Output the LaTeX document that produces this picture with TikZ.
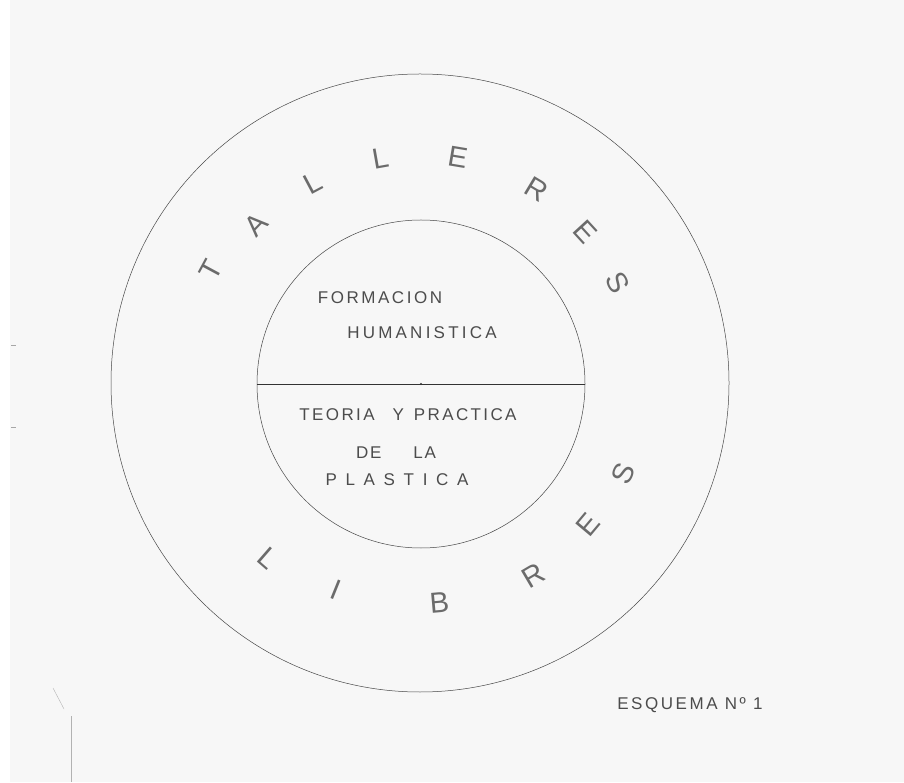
\documentclass[tikz,border=0pt]{standalone}
\usepackage{fontspec}
\setmainfont{Liberation Sans}
\begin{document}
\begin{tikzpicture}[x=1pt,y=1pt,
  pencil/.style={draw=black!72, line width=0.5pt},
  ring/.style={font=\fontsize{29}{29}\selectfont, text=black!58, inner sep=0pt},
  inlabel/.style={font=\fontsize{17}{17}\selectfont, text=black!70, inner sep=0pt}]
\useasboundingbox (0,0) rectangle (904,782);
\fill[white] (0,0) rectangle (904,782);
\fill[black!3] (10,0) rectangle (904,782);
% scan artefacts
\draw[black!30, line width=0.4pt] (53,94) -- (64,73);
\draw[black!30, line width=0.5pt] (71,66) -- (71,0);
\draw[black!35, line width=0.4pt] (11,437) -- (16,437);
\draw[black!35, line width=0.4pt] (11,355) -- (16,355);
% circles
\coordinate (c) at (420,399);
\node[circle, pencil, minimum size=618pt, inner sep=0pt] (outer) at (c) {};
\node[circle, pencil, minimum size=328pt, inner sep=0pt] (inner) at (421,398) {};
\draw[draw=black!80, line width=0.8pt] (inner.west) -- (inner.east);
\fill[black!80] (inner.center) circle (1.2pt);
% ring letters
\foreach \ch/\a/\r [count=\i] in {T/151.7/238, A/136/228, L/118/227, L/100/228, E/80.5/229, R/59/226, E/42.5/224, S/27/222}
  \node[ring, rotate=\a-90] (top\i) at ([shift={(\a:\r)}]c) {\ch};
\foreach \ch/\a/\r [count=\i] in {L/-131/232, I/-112/223, B/-85/221, R/-59.5/223, E/-40/220, S/-24/223}
  \node[ring, rotate=\a+90] (bot\i) at ([shift={(\a:\r)}]c) {\ch};
% inner texts
\node[inlabel] (form) at (380,484) {\addfontfeature{LetterSpace=15}FORMACION};
\node[inlabel] (hum) at (422,449) {\addfontfeature{LetterSpace=19}HUMANISTICA};
\node[inlabel] (teo) at (408,367) {\addfontfeature{LetterSpace=14}TEORIA\hspace{18pt}Y\hspace{10pt}PRACTICA};
\node[inlabel] (dela) at (396,329) {\addfontfeature{LetterSpace=10}DE\hspace{32pt}LA};
\node[inlabel] (plas) at (397,302) {\addfontfeature{LetterSpace=51}PLASTICA};
\node[inlabel] (esq) at (690,77) {\addfontfeature{LetterSpace=15}ESQUEMA Nº 1};
\end{tikzpicture}
\end{document}
